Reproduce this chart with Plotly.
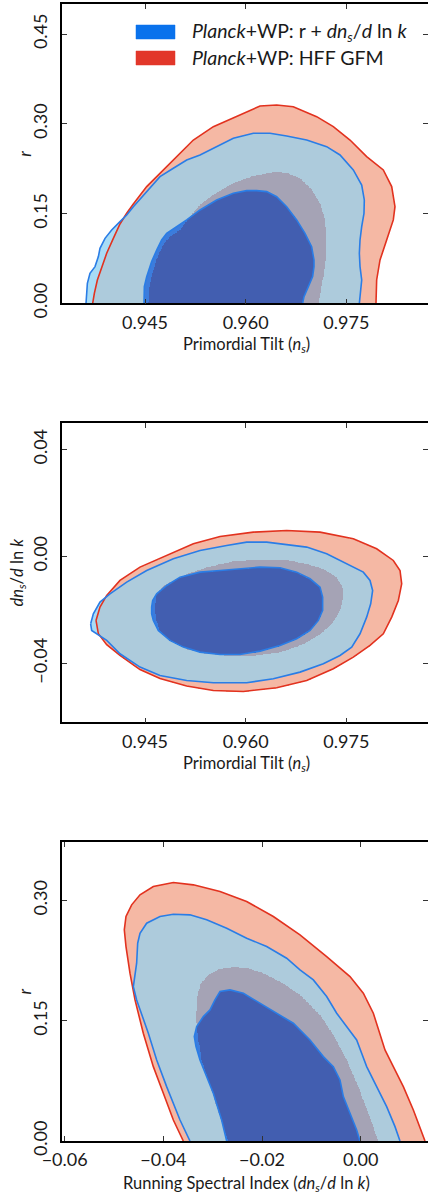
import numpy as np
import plotly.graph_objects as go

# ---------------- Panel 1: n_s vs r ----------------
p1_red95_ns = [0.93720, 0.93745, 0.93790, 0.93854, 0.93929, 0.94028, 0.94127, 0.94227, 0.94326, 0.94525,
               0.94723, 0.94972, 0.95220, 0.95518, 0.95916, 0.96214, 0.96462, 0.96710, 0.97058, 0.97306,
               0.97555, 0.97803, 0.98051, 0.98176, 0.98225, 0.98200, 0.98101, 0.98002, 0.97952, 0.97942]
p1_red95_r = [0.0000, 0.0167, 0.0390, 0.0613, 0.0836, 0.1086, 0.1326, 0.1504, 0.1660, 0.1950,
              0.2172, 0.2451, 0.2729, 0.2952, 0.3147, 0.3297, 0.3314, 0.3286, 0.3119, 0.2952,
              0.2729, 0.2451, 0.2228, 0.1950, 0.1615, 0.1393, 0.1058, 0.0724, 0.0390, 0.0000]
p1_red68_ns = [0.94550, 0.94574, 0.94624, 0.94699, 0.94773, 0.94872, 0.95022, 0.95171, 0.95320, 0.95518,
               0.95816, 0.96114, 0.96412, 0.96611, 0.96810, 0.96983, 0.97108, 0.97182, 0.97207, 0.97192,
               0.97157, 0.97118, 0.97093]
p1_red68_r = [0.0000, 0.0334, 0.0557, 0.0808, 0.0975, 0.1114, 0.1225, 0.1448, 0.1643, 0.1810,
              0.2005, 0.2128, 0.2189, 0.2183, 0.2089, 0.1894, 0.1671, 0.1393, 0.1058, 0.0724,
              0.0446, 0.0223, 0.0000]
p1_blue95_ns = [0.93621, 0.93641, 0.93680, 0.93755, 0.93805, 0.93829, 0.93904, 0.94003, 0.94127, 0.94227,
                0.94326, 0.94525, 0.94723, 0.94922, 0.95121, 0.95320, 0.95518, 0.95816, 0.96114, 0.96363,
                0.96611, 0.96909, 0.97207, 0.97406, 0.97604, 0.97729, 0.97768, 0.97763, 0.97729, 0.97704,
                0.97694, 0.97704, 0.97729, 0.97704, 0.97694]
p1_blue95_r = [0.0000, 0.0334, 0.0501, 0.0613, 0.0780, 0.0919, 0.1086, 0.1225, 0.1365, 0.1476,
               0.1615, 0.1866, 0.2117, 0.2256, 0.2395, 0.2479, 0.2590, 0.2757, 0.2841, 0.2841,
               0.2796, 0.2729, 0.2618, 0.2479, 0.2228, 0.1977, 0.1727, 0.1504, 0.1281, 0.1058,
               0.0836, 0.0613, 0.0390, 0.0167, 0.0000]
p1_blue68_ns = [0.94485, 0.94490, 0.94525, 0.94599, 0.94674, 0.94748, 0.94823, 0.94972, 0.95121, 0.95320,
                0.95568, 0.95816, 0.96015, 0.96164, 0.96313, 0.96462, 0.96611, 0.96760, 0.96884, 0.96983,
                0.97018, 0.97018, 0.96998, 0.96934, 0.96869, 0.96849]
p1_blue68_r = [0.0000, 0.0279, 0.0446, 0.0696, 0.0891, 0.1058, 0.1170, 0.1281, 0.1393, 0.1560,
               0.1727, 0.1838, 0.1883, 0.1883, 0.1866, 0.1782, 0.1615, 0.1393, 0.1170, 0.0947,
               0.0724, 0.0613, 0.0446, 0.0279, 0.0111, 0.0000]

# ---------------- Panel 2: n_s vs dn_s/dlnk ----------------
p2_red95_ns = [0.93770, 0.93829, 0.93929, 0.94127, 0.94425, 0.94823, 0.95220, 0.95618, 0.96114, 0.96611,
               0.97108, 0.97604, 0.97952, 0.98200, 0.98300, 0.98325, 0.98275, 0.98176, 0.98051, 0.97853,
               0.97604, 0.97306, 0.96909, 0.96462, 0.95965, 0.95518, 0.95121, 0.94723, 0.94425, 0.94127,
               0.93929, 0.93805]
p2_red95_run = [-0.02392, -0.01894, -0.01458, -0.00897, -0.00399, 0.00037, 0.00473, 0.00748, 0.00910, 0.00972,
                0.00910, 0.00660, 0.00287, -0.00150, -0.00523, -0.01022, -0.01645, -0.02268, -0.02891, -0.03327,
                -0.03763, -0.04199, -0.04635, -0.04909, -0.05046, -0.05009, -0.04840, -0.04560, -0.04230, -0.03700,
                -0.03300, -0.02891]
p2_red68_ns = [0.94649, 0.94674, 0.94773, 0.94972, 0.95121, 0.95419, 0.95816, 0.96214, 0.96611, 0.96909,
               0.97157, 0.97356, 0.97445, 0.97455, 0.97406, 0.97281, 0.97108, 0.96859, 0.96561, 0.96214,
               0.95816, 0.95419, 0.95121, 0.94872, 0.94723, 0.94664]
p2_red68_run = [-0.01894, -0.01396, -0.01084, -0.00835, -0.00648, -0.00399, -0.00174, -0.00100, -0.00125, -0.00274,
                -0.00461, -0.00773, -0.01146, -0.01520, -0.02019, -0.02517, -0.02891, -0.03265, -0.03539, -0.03676,
                -0.03701, -0.03638, -0.03451, -0.03140, -0.02766, -0.02330]
p2_blue95_ns = [0.93690, 0.93730, 0.93829, 0.93978, 0.94227, 0.94525, 0.94922, 0.95320, 0.95717, 0.96015,
                0.96313, 0.96611, 0.96909, 0.97207, 0.97505, 0.97753, 0.97853, 0.97892, 0.97863, 0.97803,
                0.97704, 0.97580, 0.97406, 0.97157, 0.96810, 0.96412, 0.96015, 0.95518, 0.95121, 0.94723,
                0.94425, 0.94127, 0.93929, 0.93779, 0.93705]
p2_blue95_run = [-0.02517, -0.02143, -0.01707, -0.01396, -0.00959, -0.00523, -0.00087, 0.00224, 0.00411, 0.00536,
                 0.00536, 0.00449, 0.00349, 0.00100, -0.00274, -0.00586, -0.00897, -0.01271, -0.01769, -0.02268,
                 -0.02891, -0.03389, -0.03701, -0.04012, -0.04324, -0.04573, -0.04722, -0.04722, -0.04635, -0.04448,
                 -0.04137, -0.03638, -0.03140, -0.02891, -0.02766]
p2_blue68_ns = [0.94599, 0.94614, 0.94674, 0.94823, 0.95022, 0.95320, 0.95618, 0.95916, 0.96214, 0.96512,
                0.96760, 0.96959, 0.97108, 0.97147, 0.97147, 0.97083, 0.96959, 0.96760, 0.96512, 0.96214,
                0.95916, 0.95618, 0.95320, 0.95071, 0.94872, 0.94698, 0.94624, 0.94599]
p2_blue68_run = [-0.01894, -0.01645, -0.01396, -0.01084, -0.00773, -0.00586, -0.00523, -0.00461, -0.00399, -0.00424,
                 -0.00586, -0.00835, -0.01146, -0.01520, -0.02019, -0.02392, -0.02766, -0.03078, -0.03327, -0.03539,
                 -0.03663, -0.03663, -0.03576, -0.03389, -0.03140, -0.02766, -0.02392, -0.02143]

# ---------------- Panel 3: dn_s/dlnk vs r ----------------
p3_red95_run = [-0.03595, -0.03797, -0.04000, -0.04203, -0.04406, -0.04574, -0.04676, -0.04757, -0.04791, -0.04757,
                -0.04642, -0.04473, -0.04203, -0.03797, -0.03392, -0.02851, -0.02311, -0.01770, -0.01230, -0.00689,
                -0.00216, 0.00054, 0.00257, 0.00392, 0.00493, 0.00662, 0.00865, 0.01068, 0.01270, 0.01304]
p3_red95_r = [0.0000, 0.02621, 0.05950, 0.09279, 0.13440, 0.17601, 0.20930, 0.24259, 0.26339, 0.28004,
              0.29460, 0.30708, 0.31748, 0.32248, 0.31956, 0.31124, 0.29876, 0.28004, 0.25715, 0.23010,
              0.20514, 0.18433, 0.15937, 0.13440, 0.11360, 0.09279, 0.06782, 0.03870, 0.00541, 0.0000]
p3_red68_run = [-0.02676, -0.02770, -0.02919, -0.03088, -0.03223, -0.03291, -0.03338, -0.03324, -0.03257, -0.03088,
                -0.02851, -0.02581, -0.02311, -0.01973, -0.01635, -0.01230, -0.00824, -0.00554, -0.00284, -0.00047,
                0.00155, 0.00358]
p3_red68_r = [0.0000, 0.01373, 0.04286, 0.07615, 0.10111, 0.12608, 0.14980, 0.17601, 0.19473, 0.20722,
              0.21471, 0.21720, 0.21596, 0.20930, 0.19890, 0.18225, 0.15729, 0.13232, 0.10111, 0.06782,
              0.03454, 0.0000]
p3_blue95_run = [-0.03460, -0.03662, -0.03933, -0.04135, -0.04304, -0.04439, -0.04541, -0.04608, -0.04574, -0.04541,
                 -0.04520, -0.04473, -0.04338, -0.04068, -0.03797, -0.03460, -0.03122, -0.02716, -0.02311, -0.01905,
                 -0.01500, -0.01230, -0.00959, -0.00689, -0.00486, -0.00284, -0.00081, 0.00020, 0.00122, 0.00324,
                 0.00527, 0.00696, 0.00797]
p3_blue95_r = [0.0000, 0.02621, 0.06782, 0.10111, 0.13440, 0.15937, 0.17601, 0.19265, 0.20930, 0.22178,
               0.24675, 0.25923, 0.27171, 0.28004, 0.28295, 0.28212, 0.27588, 0.26547, 0.25299, 0.24259,
               0.22802, 0.21346, 0.20098, 0.18017, 0.15937, 0.14272, 0.12608, 0.10943, 0.09279, 0.06782,
               0.04286, 0.01789, 0.0000]
p3_blue68_run = [-0.02716, -0.02818, -0.02987, -0.03122, -0.03257, -0.03338, -0.03372, -0.03324, -0.03189, -0.03054,
                 -0.02953, -0.02851, -0.02649, -0.02378, -0.02041, -0.01703, -0.01365, -0.01027, -0.00757, -0.00554,
                 -0.00419, -0.00351, -0.00216, -0.00081, -0.00014]
p3_blue68_r = [0.0000, 0.02621, 0.05950, 0.08031, 0.10111, 0.11776, 0.13024, 0.14272, 0.15521, 0.16353,
               0.17601, 0.18641, 0.18849, 0.18433, 0.17185, 0.15937, 0.14688, 0.12608, 0.10527, 0.09279,
               0.07615, 0.05534, 0.03454, 0.01373, 0.0000]

# ticks / labels
ns_ticks = [0.945, 0.960, 0.975]
ns_ticklabels = ["0.945", "0.960", "0.975"]
r1_ticks = [0.00, 0.15, 0.30, 0.45]
r1_ticklabels = ["0.00", "0.15", "0.30", "0.45"]
run_y_ticks = [-0.04, 0.00, 0.04]
run_y_ticklabels = ["\u22120.04", "0.00", "0.04"]
run_x_ticks = [-0.06, -0.04, -0.02, 0.00]
run_x_ticklabels = ["\u22120.06", "\u22120.04", "\u22120.02", "0.00"]
r3_ticks = [0.00, 0.15, 0.30]
r3_ticklabels = ["0.00", "0.15", "0.30"]

x_titles = ["Primordial Tilt (<i>n<sub>s</sub></i>)",
            "Primordial Tilt (<i>n<sub>s</sub></i>)",
            "Running Spectral Index (<i>dn<sub>s</sub></i>/<i>d</i> ln <i>k</i>)"]
y_titles = ["<i>r</i>", "<i>dn<sub>s</sub></i>/<i>d</i> ln <i>k</i>", "<i>r</i>"]

legend_labels = ["<i>Planck</i>+WP: r + <i>dn<sub>s</sub></i>/<i>d</i> ln <i>k</i>",
                 "<i>Planck</i>+WP: HFF GFM"]

# ---------------- styling ----------------
W, H = 428, 1202
FONT = "Lato"
TXT = "#1a1a1a"
RED_LINE = "#E2321F"
BLUE_LINE = "#2A7DE6"
region_colors = ["#F5B8A4",  # 1 red95 only
                 "#A8DCF5",  # 2 blue95 only
                 "#ADCBDC",  # 3 blue95 & red95
                 "#A5A3B5",  # 4 red68 (within blue95)
                 "#425EB0",  # 5 blue68 & red68
                 "#3C7CDC",  # 6 blue68 outside red68
                 "#C9A0A8"]  # 7 red68 outside blue95

def inside(px, py, X, Y):
    px = np.asarray(px); py = np.asarray(py)
    res = np.zeros(X.shape, dtype=bool)
    n = len(px)
    j = n - 1
    for i in range(n):
        xi, yi, xj, yj = px[i], py[i], px[j], py[j]
        if yi != yj:
            cond = ((yi > Y) != (yj > Y)) & (X < (xj - xi) * (Y - yi) / (yj - yi) + xi)
            res ^= cond
        j = i
    return res

def region_map(xr, yr, nx, ny, red95, red68, blue95, blue68):
    xs = np.linspace(xr[0], xr[1], nx + 1); xs = 0.5 * (xs[1:] + xs[:-1])
    ys = np.linspace(yr[0], yr[1], ny + 1); ys = 0.5 * (ys[1:] + ys[:-1])
    X, Y = np.meshgrid(xs, ys)
    RO = inside(*red95, X, Y); RI = inside(*red68, X, Y)
    BO = inside(*blue95, X, Y); BI = inside(*blue68, X, Y)
    z = np.full(X.shape, np.nan)
    z[RO] = 1
    z[BO & ~RO] = 2
    z[BO & RO] = 3
    z[RI & BO] = 4
    z[RI & ~BO] = 7
    z[BI & RI] = 5
    z[BI & ~RI] = 6
    return xs, ys, z

cs = []
nreg = len(region_colors)
for k, c in enumerate(region_colors):
    cs.append([k / nreg, c]); cs.append([(k + 1) / nreg, c])

def px2x(p): return p / W
def px2y(p): return 1 - p / H

x12_range = [0.93263, 0.98717]
x3_range = [-0.06054, 0.013649]
y1_range = [0.0, 0.5]
y2_range = [-0.062, 0.05]
y3_range = [0.0, 0.373]

panels = [
    dict(xr=x12_range, yr=y1_range, red95=(p1_red95_ns, p1_red95_r), red68=(p1_red68_ns, p1_red68_r),
         blue95=(p1_blue95_ns, p1_blue95_r), blue68=(p1_blue68_ns, p1_blue68_r)),
    dict(xr=x12_range, yr=y2_range, red95=(p2_red95_ns, p2_red95_run), red68=(p2_red68_ns, p2_red68_run),
         blue95=(p2_blue95_ns, p2_blue95_run), blue68=(p2_blue68_ns, p2_blue68_run), closed=True),
    dict(xr=x3_range, yr=y3_range, red95=(p3_red95_run, p3_red95_r), red68=(p3_red68_run, p3_red68_r),
         blue95=(p3_blue95_run, p3_blue95_r), blue68=(p3_blue68_run, p3_blue68_r)),
]

fig = go.Figure()
for i, p in enumerate(panels):
    xa = "x" if i == 0 else f"x{i+1}"
    ya = "y" if i == 0 else f"y{i+1}"
    xs, ys, z = region_map(p["xr"], p["yr"], 620, 500, p["red95"], p["red68"], p["blue95"], p["blue68"])
    fig.add_trace(go.Heatmap(x=xs, y=ys, z=z, colorscale=cs, zmin=0.5, zmax=nreg + 0.5,
                             showscale=False, hoverinfo="skip", zsmooth=False, xaxis=xa, yaxis=ya))
    closed = p.get("closed", False)
    for key, col in [("red95", RED_LINE), ("blue95", BLUE_LINE), ("blue68", BLUE_LINE)]:
        lx, ly = list(p[key][0]), list(p[key][1])
        if closed:
            lx = lx + [lx[0]]; ly = ly + [ly[0]]
        fig.add_trace(go.Scatter(x=lx, y=ly, mode="lines", line=dict(color=col, width=1.6),
                                 showlegend=False, hoverinfo="skip", xaxis=xa, yaxis=ya))

common = dict(showline=True, linecolor="black", linewidth=1.6, mirror="ticks", ticks="inside",
              ticklen=5, tickwidth=1, tickcolor="#333333", showgrid=False, zeroline=False,
              tickfont=dict(family=FONT, size=18, color=TXT), automargin=False)
xdom = [px2x(62), 1.0]
ydoms_px = [(4.1, 303.3), (422.7, 722.3), (842, 1141)]
ydoms = [[px2y(b), px2y(t)] for t, b in ydoms_px]

fig.update_layout(
    width=W, height=H, margin=dict(l=0, r=0, t=0, b=0),
    paper_bgcolor="white", plot_bgcolor="white", showlegend=False,
    xaxis=dict(**common, domain=xdom, anchor="y", range=x12_range, tickvals=ns_ticks, ticktext=ns_ticklabels,
               ticklabelstandoff=2),
    yaxis=dict(**common, domain=ydoms[0], anchor="x", range=y1_range, tickvals=r1_ticks, ticktext=r1_ticklabels,
               tickangle=-90, ticklabelstandoff=6),
    xaxis2=dict(**common, domain=xdom, anchor="y2", range=x12_range, tickvals=ns_ticks, ticktext=ns_ticklabels,
                ticklabelstandoff=2),
    yaxis2=dict(**common, domain=ydoms[1], anchor="x2", range=y2_range, tickvals=run_y_ticks, ticktext=run_y_ticklabels,
                tickangle=-90, ticklabelstandoff=6),
    xaxis3=dict(**common, domain=xdom, anchor="y3", range=x3_range, tickvals=run_x_ticks, ticktext=run_x_ticklabels,
                ticklabelstandoff=2),
    yaxis3=dict(**common, domain=ydoms[2], anchor="x3", range=y3_range, tickvals=r3_ticks, ticktext=r3_ticklabels,
                tickangle=-90, ticklabelstandoff=6),
)

# axis titles (placed as text in the margins)
title_font = dict(family=FONT, size=16.5, color=TXT)
x_title_y = [345, 763.5, 1183.5]
y_title_x = [25, 17, 24]
for i, ((t, b), xt, yt) in enumerate(zip(ydoms_px, x_titles, y_titles)):
    fig.add_annotation(xref="paper", yref="paper", x=px2x(246), y=px2y(x_title_y[i]), text=xt,
                       showarrow=False, xanchor="center", yanchor="middle", font=title_font)
    fig.add_annotation(xref="paper", yref="paper", x=px2x(y_title_x[i]), y=px2y((t + b) / 2), text=yt,
                       showarrow=False, xanchor="center", yanchor="middle", textangle=-90, font=title_font)

# legend (manual, in top panel)
legend_colors = ["#0A72EC", "#E2372A"]
legend_rows = [(25, 39), (51, 65)]
for (t, b), col, lab in zip(legend_rows, legend_colors, legend_labels):
    fig.add_shape(type="rect", xref="paper", yref="paper", x0=px2x(136), x1=px2x(175),
                  y0=px2y(b), y1=px2y(t), fillcolor=col, line=dict(color=col, width=0.5))
    fig.add_annotation(xref="paper", yref="paper", x=px2x(190), y=px2y((t + b) / 2), text=lab,
                       showarrow=False, xanchor="left", yanchor="middle",
                       font=dict(family=FONT, size=19.5, color=TXT))

fig.write_html("out.html", config={"displayModeBar": False},
               post_script="document.body.style.margin='0px';document.body.style.padding='0px';")
